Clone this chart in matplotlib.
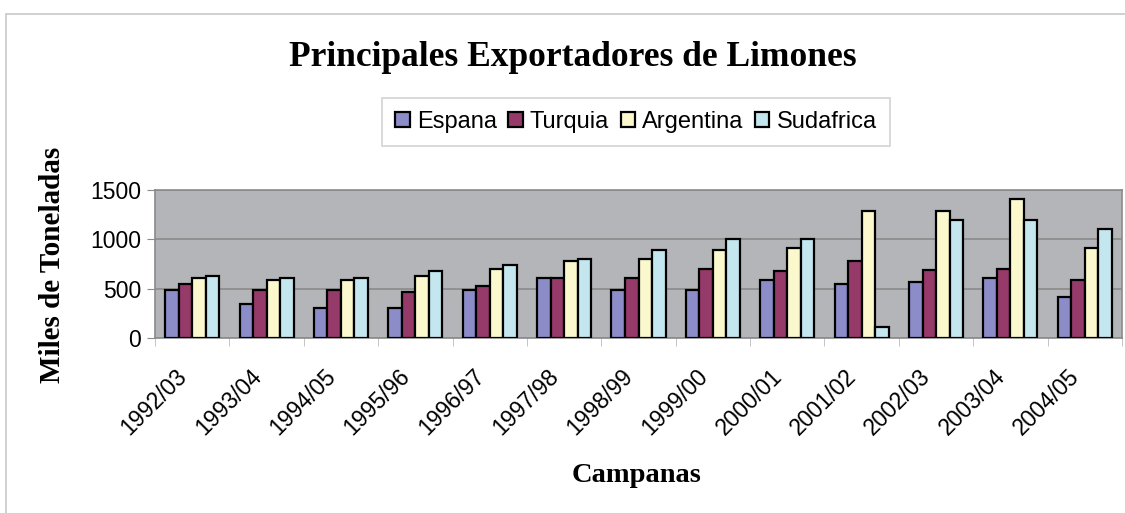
import numpy as np
import matplotlib
matplotlib.use("Agg")
import matplotlib.pyplot as plt
from matplotlib.patches import Rectangle
from matplotlib.transforms import ScaledTranslation

# Données
campanas = ["1992/03", "1993/04", "1994/05", "1995/96", "1996/97", "1997/98", "1998/99",
            "1999/00", "2000/01", "2001/02", "2002/03", "2003/04", "2004/05"]
espana = [490, 340, 300, 300, 490, 605, 490, 490, 590, 550, 570, 605, 415]
turquia = [550, 490, 490, 470, 530, 605, 605, 700, 680, 780, 685, 700, 590]
argentina = [605, 585, 585, 625, 700, 780, 800, 890, 910, 1290, 1290, 1405, 910]
sudafrica = [625, 605, 605, 680, 740, 800, 890, 1005, 1005, 110, 1195, 1195, 1100]
paises = ["Espana", "Turquia", "Argentina", "Sudafrica"]
couleurs = ["#8C8CC8", "#963A6A", "#FAF8CC", "#C4E6EE"]

serie = [espana, turquia, argentina, sudafrica]

fig = plt.figure(figsize=(11.25, 5.13), dpi=100)
ax = fig.add_axes([155 / 1125, 1 - 338 / 513, 967 / 1125, 148 / 513])

# Cadre extérieur du graphique
fig.patches.append(Rectangle((6 / 1125, -0.1), 1.2, 1 - 14 / 513 + 0.1, transform=fig.transFigure,
                             fill=False, edgecolor="#C8C8C8", linewidth=1.2))

x = np.arange(len(campanas))
w = 0.182
for i, (vals, nom, c) in enumerate(zip(serie, paises, couleurs)):
    ax.bar(x + (i - 1.5) * w, vals, width=w, color=c, edgecolor="black", linewidth=1.6,
           label=nom, zorder=3)

ax.set_facecolor("#B4B5B8")
ax.set_xlim(-0.5, len(campanas) - 0.5)
ax.set_ylim(0, 1500)
ax.set_yticks([0, 500, 1000, 1500])
ax.grid(axis="y", color="#8A8A8A", linewidth=1.2, zorder=0)
for s in ax.spines.values():
    s.set_color("#8A8A8A")
    s.set_linewidth(1.2)

# Graduations
ax.set_xticks(x)
ax.set_xticklabels(campanas, rotation=45, ha="right", rotation_mode="anchor",
                   fontsize=16.5, family="Liberation Sans")
ax.tick_params(axis="x", length=0, pad=19)
decal = ScaledTranslation(-17 / 100, 0, fig.dpi_scale_trans)
for t in ax.get_xticklabels():
    t.set_transform(t.get_transform() + decal)
ax.set_xticks(np.arange(-0.5, len(campanas)), minor=True)
ax.tick_params(axis="x", which="minor", length=6, color="#BBBBBB")
ax.tick_params(axis="y", length=6, color="#8A8A8A", labelsize=16.5, pad=4)
for t in ax.get_yticklabels():
    t.set_family("Liberation Sans")

fig.text(573 / 1125, 1 - 57 / 513, "Principales Exportadores de Limones", ha="center", va="center",
         fontsize=25.5, fontweight="bold", family="Liberation Serif")
fig.text(53 / 1125, 1 - 265 / 513, "Miles de Toneladas", ha="center", va="center", rotation=90,
         fontsize=21, fontweight="bold", family="Liberation Serif")
fig.text(637 / 1125, 1 - 475 / 513, "Campanas", ha="center", va="center",
         fontsize=20.5, fontweight="bold", family="Liberation Serif")

leg = ax.legend(ncol=4, loc="center", bbox_to_anchor=(636 / 1125, 1 - 122 / 513),
                bbox_transform=fig.transFigure, frameon=True, fancybox=False,
                prop={"family": "Liberation Sans", "size": 17}, handlelength=0.6, handleheight=0.6,
                handletextpad=0.3, columnspacing=0.5, borderpad=0.55, borderaxespad=0)
leg.get_frame().set_edgecolor("#C8C8C8")
leg.get_frame().set_linewidth(1.2)

plt.savefig("out.png", dpi=100)
